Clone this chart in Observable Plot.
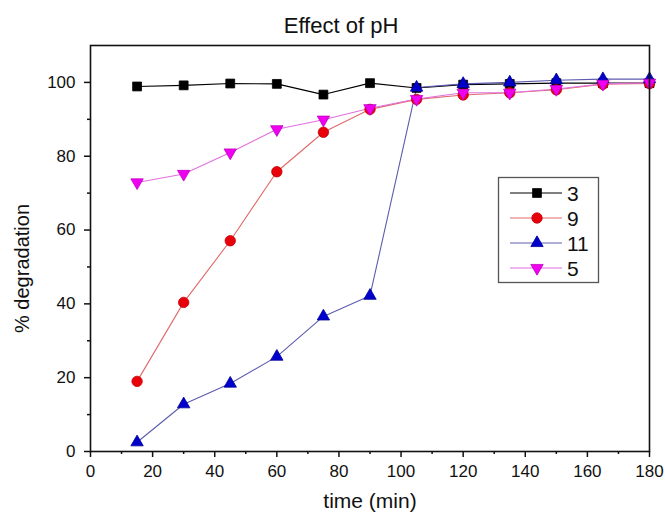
<!DOCTYPE html>
<html><head><meta charset="utf-8">
<script src="https://cdn.jsdelivr.net/npm/d3@7"></script>
<script src="https://cdn.jsdelivr.net/npm/@observablehq/plot@0.6"></script>
<style>
body{margin:0;background:#fff;}
#wrap{position:relative;width:665px;height:515px;overflow:hidden;}
#legend{position:absolute;left:0;top:0;}
</style></head><body><div id="wrap"></div>
<script>
const time = [15, 30, 45, 60, 75, 90, 105, 120, 135, 150, 165, 180];
const pH3  = [98.9, 99.2, 99.7, 99.6, 96.7, 99.8, 98.5, 99.4, 99.6, 99.8, 99.8, 99.8];
const pH9  = [19.0, 40.4, 57.1, 75.8, 86.5, 92.7, 95.4, 96.6, 97.2, 98.0, 99.5, 99.7];
const pH11 = [2.5, 12.8, 18.4, 25.7, 36.6, 42.2, 98.6, 99.6, 100.0, 100.6, 100.9, 100.9];
const pH5  = [72.9, 75.2, 81.0, 87.3, 89.9, 93.0, 95.5, 97.2, 97.2, 98.2, 99.6, 99.9];
const seriesNames = ["3", "9", "11", "5"];
const seriesValues = [pH3, pH9, pH11, pH5];
const xMajor = [0, 20, 40, 60, 80, 100, 120, 140, 160, 180];
const xMinor = [10, 30, 50, 70, 90, 110, 130, 150, 170];
const yMajor = [0, 20, 40, 60, 80, 100];
const yMinor = [10, 30, 50, 70, 90];
const titleText = "Effect of pH";
const xLabel = "time (min)";
const yLabel = "% degradation";

const styles = {
  "3":  {line: "#000000", fill: "#000000", stroke: "#000000", symbol: "square", r: 5, rotate: 0},
  "9":  {line: "#e06a6a", fill: "#e8000b", stroke: "#c00000", symbol: "circle", r: 5.2, rotate: 0},
  "11": {line: "#5c5cae", fill: "#0000cc", stroke: "#000099", symbol: "triangle", r: 4.6, rotate: 0},
  "5":  {line: "#e070e0", fill: "#f000f0", stroke: "#c000c0", symbol: "triangle", r: 4.6, rotate: 180}
};

const table = seriesNames.flatMap((s, i) => time.map((t, j) => ({series: s, time: t, value: seriesValues[i][j]})));

const font = "'Liberation Sans', Arial, sans-serif";
const marks = [
  Plot.axisX({ticks: xMinor, tickSize: 3, text: null, label: null, strokeWidth: 1.5}),
  Plot.axisX({ticks: xMajor, tickSize: 6, tickPadding: 7, fontSize: 17, label: null, tickFormat: d => String(d), strokeWidth: 1.5}),
  Plot.axisY({ticks: yMinor, tickSize: 3, text: null, label: null, strokeWidth: 1.5}),
  Plot.axisY({ticks: yMajor, tickSize: 6, tickPadding: 9, fontSize: 17, label: null, tickFormat: d => String(d), strokeWidth: 1.5}),
  Plot.text([titleText], {frameAnchor: "top", lineAnchor: "middle", textAnchor: "middle", dx: -29, dy: -20, fontSize: 22, fill: "#111"}),
  Plot.text([xLabel], {frameAnchor: "bottom", lineAnchor: "middle", textAnchor: "middle", dy: 50, fontSize: 21, fill: "#111"}),
  Plot.text([yLabel], {frameAnchor: "left", lineAnchor: "middle", textAnchor: "middle", dx: -68, dy: 20, rotate: -90, fontSize: 20, fill: "#111"})
];
for (const s of seriesNames) {
  const st = styles[s];
  const d = table.filter(r => r.series === s);
  marks.push(Plot.line(d, {x: "time", y: "value", stroke: st.line, strokeWidth: 1.1}));
}
for (const s of seriesNames) {
  const st = styles[s];
  const d = table.filter(r => r.series === s);
  marks.push(Plot.dot(d, {x: "time", y: "value", symbol: st.symbol, r: st.r, fill: st.fill, stroke: st.stroke, strokeWidth: 0.8, rotate: st.rotate}));
}
marks.push(Plot.frame({stroke: "#111", strokeWidth: 1.6}));

const chart = Plot.plot({
  width: 665, height: 515,
  marginLeft: 90, marginRight: 16, marginTop: 45, marginBottom: 64,
  x: {domain: [0, 180]},
  y: {domain: [0, 110]},
  style: {fontFamily: font, color: "#111", background: "#fff"},
  marks
});
const wrap = document.getElementById("wrap");
wrap.appendChild(chart);

// legend overlay
const lg = d3.select(wrap).append("svg").attr("id", "legend").attr("width", 665).attr("height", 515)
  .style("font-family", font);
lg.append("rect").attr("x", 498.5).attr("y", 177.5).attr("width", 100).attr("height", 105)
  .attr("fill", "#fff").attr("stroke", "#555").attr("stroke-width", 1.3);
seriesNames.forEach((s, i) => {
  const st = styles[s];
  const cy = 193 + i * 25;
  lg.append("line").attr("x1", 510).attr("x2", 562).attr("y1", cy).attr("y2", cy)
    .attr("stroke", st.line).attr("stroke-width", 1.1);
  const sym = {square: d3.symbolSquare, circle: d3.symbolCircle, triangle: d3.symbolTriangle}[st.symbol];
  lg.append("path").attr("d", d3.symbol(sym, Math.PI * st.r * st.r)())
    .attr("transform", `translate(537,${cy}) rotate(${st.rotate})`)
    .attr("fill", st.fill).attr("stroke", st.stroke).attr("stroke-width", 0.8);
  lg.append("text").attr("x", 567).attr("y", cy).attr("dy", "0.36em")
    .attr("font-size", 21).attr("fill", "#111").text(s);
});
</script></body></html>
